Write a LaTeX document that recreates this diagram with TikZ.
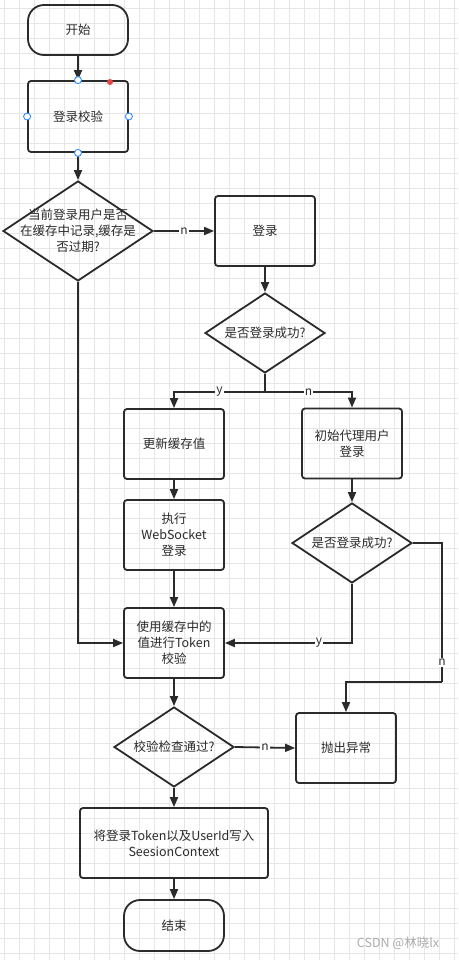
\documentclass[tikz,border=0pt]{standalone}
\usepackage{fontspec}
\setmainfont{Noto Sans CJK SC}
\usepackage{xcolor}
\usetikzlibrary{shapes.geometric,arrows.meta}
\definecolor{ink}{HTML}{2B2B2B}
\definecolor{gridc}{HTML}{E6E6E6}
\definecolor{handleblue}{HTML}{2F8CFF}
\definecolor{handlered}{HTML}{E64545}

\begin{document}
\begin{tikzpicture}[x=1pt,y=-1pt,
    every node/.style={font=\fontsize{12.5}{16}\selectfont,text=ink},
    term/.style={draw=ink,line width=1.8pt,rounded corners=16pt,minimum width=100pt,minimum height=50pt},
    proc/.style={draw=ink,line width=1.8pt,rounded corners=3pt,minimum width=100pt,minimum height=70pt,align=center},
    decision/.style={draw=ink,line width=1.8pt,diamond,inner sep=0pt,minimum width=120pt,minimum height=80pt},
    flow/.style={draw=ink,line width=1.8pt,-{Triangle[length=10pt,width=8pt]}},
    link/.style={draw=ink,line width=1.8pt},
    lbl/.style={fill=white,inner sep=1pt,font=\fontsize{12}{14}\selectfont},
    handle/.style={circle,draw=handleblue,fill=white,line width=0.9pt,inner sep=0pt,minimum size=7pt}]
    \fill[white] (0,0) rectangle (458,960);
    \useasboundingbox (0,0) rectangle (458,960);
    \foreach \gx in {4,19,...,454} \draw[gridc,line width=0.8pt] (\gx,0) -- (\gx,960);
    \foreach \gy in {8,23,...,953} \draw[gridc,line width=0.8pt] (0,\gy) -- (458,\gy);

    \node[term] (start) at (78,30) {开始};
    \node[proc,minimum height=71pt] (check) at (78,116.5) {登录校验};
    \node[decision,minimum width=150pt,minimum height=100pt] (d1) at (78,231) {};
    \node[align=center] (d1t) at (d1) {当前登录用户是否\\在缓存中记录,缓存是\\否过期?};
    \node[proc] (login) at (265,231) {登录};
    \node[decision] (d2) at (265,333) {};
    \node (d2t) at (d2) {是否登录成功?};
    \coordinate (split) at (265,392);
    \node[proc] (update) at (174,444) {更新缓存值};
    \node[proc] (init) at (352,443.5) {初始代理用户\\登录};
    \node[proc] (ws) at (174,535) {执行\\WebSocket\\登录};
    \node[decision] (d3) at (352,543) {};
    \node (d3t) at (d3) {是否登录成功?};
    \node[proc] (token) at (174,643) {使用缓存中的\\值进行Token\\校验};
    \coordinate (bend) at (442,682);
    \node[decision] (d4) at (174,747) {};
    \node (d4t) at (d4) {校验检查通过?};
    \node[proc] (throw) at (346,748) {抛出异常};
    \node[proc,minimum width=188pt] (write) at (174,843) {将登录Token以及UserId写入\\SeesionContext};
    \node[term,minimum height=51pt] (stop) at (174,925.5) {结束};

    \draw[flow] (start) -- (check);
    \draw[flow] (check) -- (d1);
    \draw[flow] (d1.east) -- node[lbl] {n} (login.west);
    \draw[flow] (d1.south) |- (token.west);
    \draw[flow] (login) -- (d2);
    \draw[link] (d2.south) -- (split);
    \draw[flow] (split) -| node[lbl,pos=0.25] {y} (update.north);
    \draw[flow] (split) -| node[lbl,pos=0.25] {n} (init.north);
    \draw[flow] (update) -- (ws);
    \draw[flow] (ws) -- (token);
    \draw[flow] (init) -- (d3);
    \draw[flow] (d3.south) |- node[lbl,pos=0.63] {y} (token.east);
    \draw[link] (d3.east) -| node[lbl,pos=0.93] {n} (bend);
    \draw[flow] (bend) -| (throw.north);
    \draw[flow] (token) -- (d4);
    \draw[flow] (d4.east) -- node[lbl] {n} (throw.west);
    \draw[flow] (d4) -- (write);
    \draw[flow] (write) -- (stop);

    \node[handle] (h1) at (check.north) {};
    \node[handle] (h2) at (check.west) {};
    \node[handle] (h3) at (check.east) {};
    \node[handle] (h4) at (check.south) {};
    \node[circle,fill=handlered,inner sep=0pt,minimum size=6pt] (h5) at (110,82) {};

    \node[text=gray!65,font=\fontsize{12.5}{14}\selectfont] (mark) at (398,943) {CSDN @林晓lx};
\end{tikzpicture}
\end{document}
